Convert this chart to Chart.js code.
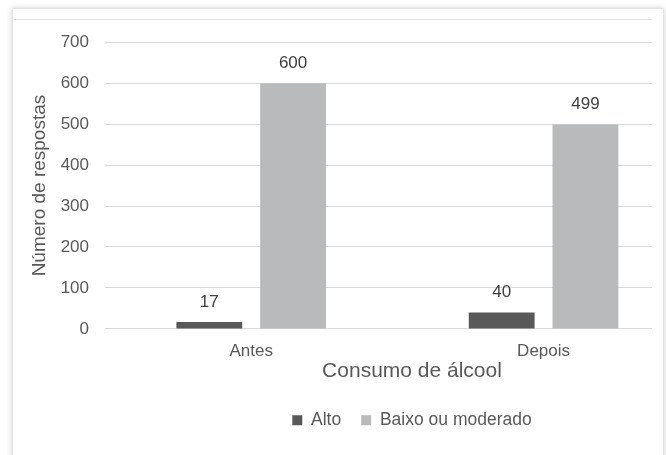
<!DOCTYPE html>
<html>
<head>
<meta charset="utf-8">
<script src="https://cdn.jsdelivr.net/npm/chart.js@4/dist/chart.umd.min.js"></script>
<style>
  body { margin: 0; background: #fff; width: 666px; height: 455px; overflow: hidden; position: relative; }
  .card {
    position: absolute; left: 12px; top: 8px; width: 650px; height: 470px;
    background: #fff; border: 1px solid #e4e4e4;
    box-shadow: 0 0 6px rgba(0, 0, 0, 0.18);
  }
  .wrap {
    position: absolute; left: 14px; top: 19px; width: 638px; height: 436px;
    overflow: hidden; border-top: 1px solid #e2e2e2;
  }
  .wrap canvas { position: absolute; left: 0; top: -4px; }
</style>
</head>
<body>
<div class="card"></div>
<div class="wrap"><canvas id="chart" width="718" height="440" style="width:718px;height:440px"></canvas></div>
<script>
const categories = ["Antes", "Depois"];
const seriesNames = ["Alto", "Baixo ou moderado"];
const alto = [17, 40];
const baixo = [600, 499];
const yTicks = [0, 100, 200, 300, 400, 500, 600, 700];

const textColor = "#595959";
const fontFamily = "'Liberation Sans', Arial, sans-serif";

// categories sit at x = 0, 1 on a numeric axis; the plot runs on past the second group
const toPoints = (arr) => arr.map((v, i) => ({ x: i, y: v }));

// value printed above each bar
const barValues = {
  id: "barValues",
  afterDatasetsDraw(chart) {
    const ctx = chart.ctx;
    ctx.save();
    ctx.font = "17px " + fontFamily;
    ctx.fillStyle = "#404040";
    ctx.textAlign = "center";
    ctx.textBaseline = "middle";
    chart.data.datasets.forEach((ds, i) => {
      chart.getDatasetMeta(i).data.forEach((bar, j) => {
        ctx.fillText(ds.data[j].y, bar.x, bar.y - 20);
      });
    });
    ctx.restore();
  }
};

new Chart(document.getElementById("chart"), {
  type: "bar",
  data: {
    datasets: [
      { label: seriesNames[0], data: toPoints(alto), backgroundColor: "#595959" },
      { label: seriesNames[1], data: toPoints(baixo), backgroundColor: "#b9babc" }
    ]
  },
  options: {
    responsive: false,
    animation: false,
    categoryPercentage: 0.573,
    barPercentage: 0.786,
    layout: { padding: { left: 14, right: 13, top: 8, bottom: 17 } },
    plugins: {
      legend: {
        position: "bottom",
        fullSize: false,
        labels: {
          boxWidth: 10, boxHeight: 10, padding: 20,
          color: textColor,
          font: { family: fontFamily, size: 17.5 }
        }
      },
      tooltip: { enabled: false }
    },
    scales: {
      x: {
        type: "linear",
        min: -0.5, max: 1.6,
        offset: false,
        afterBuildTicks: (scale) => { scale.ticks = categories.map((c, i) => ({ value: i })); },
        grid: { display: false, drawTicks: false, tickLength: 0 },
        border: { display: false },
        ticks: {
          color: textColor, font: { family: fontFamily, size: 17 }, padding: 12,
          callback: (v) => categories[v]
        },
        title: {
          display: true, text: "Consumo de álcool", color: textColor,
          font: { family: fontFamily, size: 21 }, padding: { top: -15, bottom: 8 }
        }
      },
      y: {
        min: 0, max: 700,
        afterBuildTicks: (scale) => { scale.ticks = yTicks.map(v => ({ value: v })); },
        afterFit: (scale) => { scale.width = 77; },
        grid: { color: "#d9d9d9", drawTicks: false },
        border: { display: false },
        ticks: { color: textColor, font: { family: fontFamily, size: 17 }, padding: 16 },
        title: {
          display: true, text: "Número de respostas", color: textColor,
          font: { family: fontFamily, size: 19 }, padding: 0
        }
      }
    }
  },
  plugins: [barValues]
});
</script>
</body>
</html>
